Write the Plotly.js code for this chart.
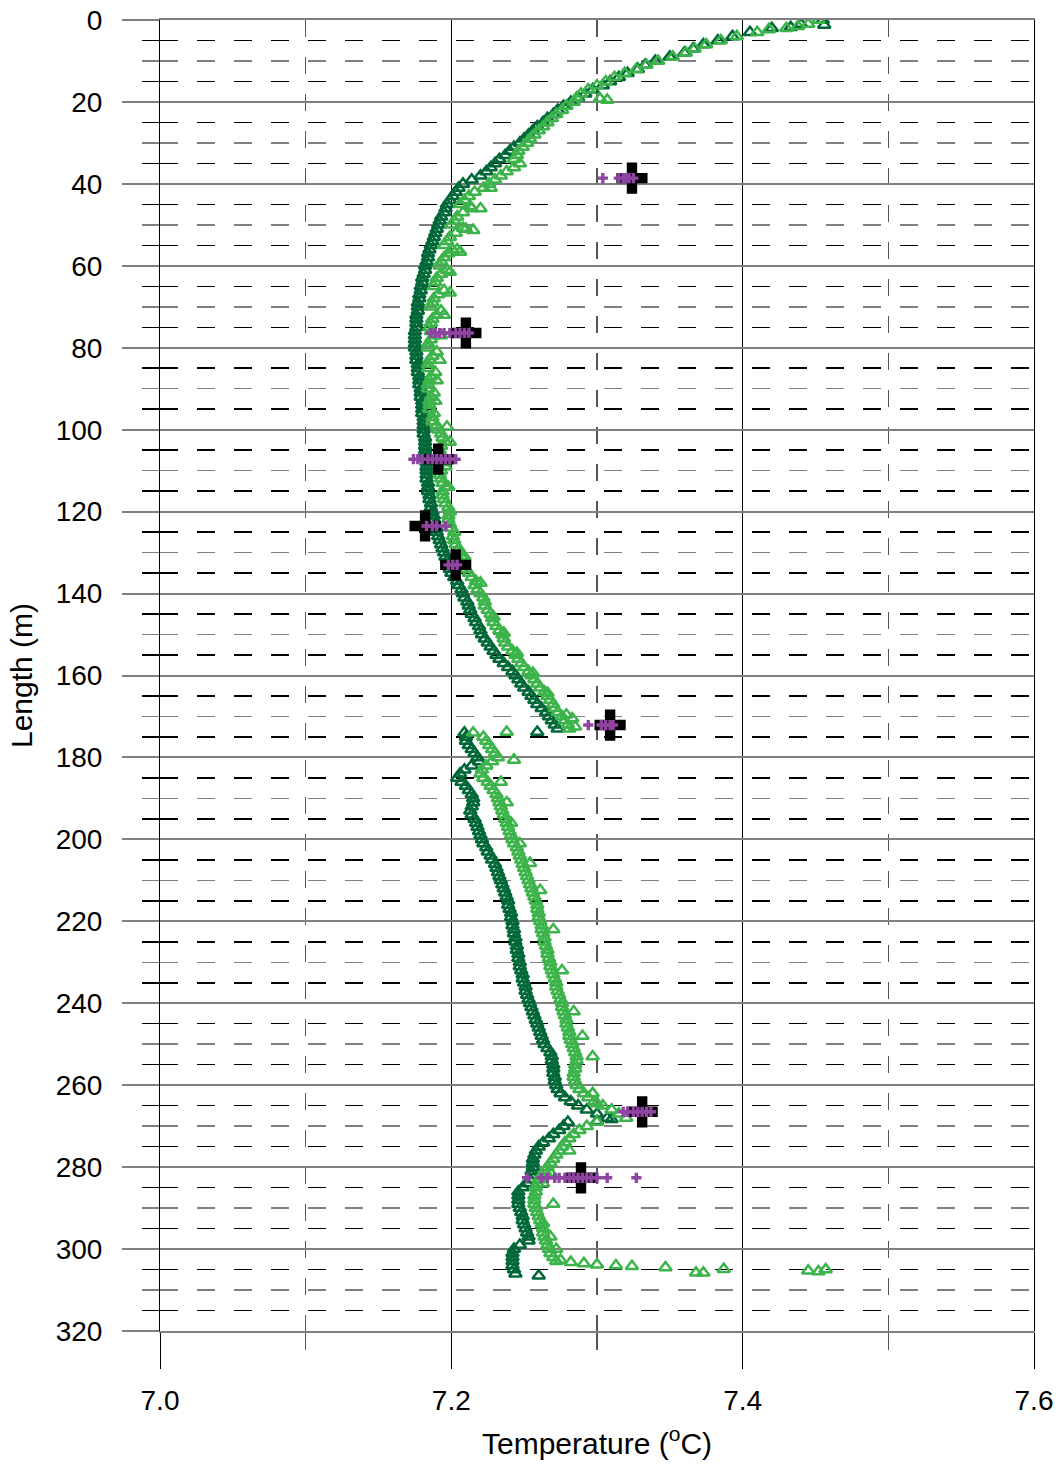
<!DOCTYPE html>
<html><head><meta charset="utf-8">
<script src="https://cdn.plot.ly/plotly-3.0.1.min.js"></script>
<style>html,body{margin:0;padding:0;background:#fff}#chart{width:1062px;height:1464px}</style>
</head><body><div id="chart"></div>
<script>
// ---- Dark green series (every metre of length) ----
const darkDepth = [
0,1,2,3,4,5,6,7,8,9,10,11,12,13,14,15,16,17,18,19,
20,21,22,23,24,25,26,27,28,29,30,31,32,33,34,35,36,37,38,39,
40,41,42,43,44,45,46,47,48,49,50,51,52,53,54,55,56,57,58,59,
60,61,62,63,64,65,66,67,68,69,70,71,72,73,74,75,76,77,78,79,
80,81,82,83,84,85,86,87,88,89,90,91,92,93,94,95,96,97,98,99,
100,101,102,103,104,105,106,107,108,109,110,111,112,113,114,115,116,117,118,119,
120,121,122,123,124,125,126,127,128,129,130,131,132,133,134,135,136,137,138,139,
140,141,142,143,144,145,146,147,148,149,150,151,152,153,154,155,156,157,158,159,
160,161,162,163,164,165,166,167,168,169,170,171,172,173,174,175,176,177,178,179,
180,181,182,183,184,185,186,187,188,189,190,191,192,193,194,195,196,197,198,199,
200,201,202,203,204,205,206,207,208,209,210,211,212,213,214,215,216,217,218,219,
220,221,222,223,224,225,226,227,228,229,230,231,232,233,234,235,236,237,238,239,
240,241,242,243,244,245,246,247,248,249,250,251,252,253,254,255,256,257,258,259,
260,261,262,263,264,265,266,267,268,269,270,271,272,273,274,275,276,277,278,279,
280,281,282,283,284,285,286,287,288,289,290,291,292,293,294,295,296,297,298,299,
300,301,302,303,304,305,306
];
const darkTemp = [
7.455,7.440,7.420,7.405,7.393,7.383,7.373,7.366,7.360,7.350,
7.340,7.333,7.328,7.321,7.315,7.309,7.304,7.297,7.292,7.287,
7.282,7.277,7.273,7.270,7.266,7.263,7.259,7.256,7.253,7.250,
7.247,7.243,7.240,7.237,7.233,7.230,7.227,7.224,7.220,7.214,
7.208,7.205,7.203,7.201,7.199,7.197,7.196,7.195,7.193,7.192,
7.191,7.190,7.189,7.188,7.187,7.186,7.185,7.184,7.184,7.183,
7.182,7.182,7.181,7.180,7.180,7.179,7.179,7.178,7.178,7.177,
7.177,7.177,7.176,7.176,7.176,7.176,7.175,7.175,7.175,7.175,
7.175,7.176,7.176,7.176,7.177,7.177,7.177,7.178,7.178,7.178,
7.179,7.179,7.179,7.180,7.180,7.180,7.180,7.181,7.181,7.181,
7.181,7.181,7.182,7.182,7.182,7.182,7.182,7.182,7.183,7.183,
7.183,7.183,7.183,7.184,7.184,7.184,7.185,7.185,7.186,7.186,
7.187,7.188,7.188,7.189,7.190,7.190,7.191,7.192,7.193,7.194,
7.195,7.196,7.197,7.198,7.199,7.200,7.202,7.204,7.205,7.207,
7.208,7.209,7.211,7.212,7.213,7.214,7.216,7.217,7.219,7.220,
7.221,7.223,7.225,7.227,7.229,7.231,7.233,7.236,7.239,7.242,
7.244,7.246,7.248,7.250,7.253,7.255,7.257,7.259,7.262,7.265,
7.267,7.269,7.271,7.273,7.209,7.210,7.210,7.212,7.214,7.216,
7.218,7.219,7.214,7.209,7.206,7.204,7.207,7.210,7.212,7.214,
7.215,7.215,7.214,7.213,7.214,7.216,7.217,7.218,7.219,7.220,
7.221,7.222,7.224,7.225,7.227,7.228,7.230,7.231,7.232,7.233,
7.234,7.235,7.236,7.237,7.238,7.239,7.239,7.240,7.241,7.241,
7.242,7.242,7.243,7.243,7.244,7.244,7.245,7.245,7.246,7.246,
7.247,7.247,7.248,7.249,7.249,7.250,7.251,7.251,7.252,7.253,
7.254,7.255,7.256,7.257,7.258,7.259,7.260,7.261,7.262,7.263,
7.264,7.266,7.268,7.269,7.269,7.270,7.270,7.270,7.271,7.271,
7.272,7.273,7.275,7.278,7.282,7.287,7.293,7.300,7.307,7.280,
7.277,7.274,7.270,7.267,7.263,7.260,7.258,7.257,7.256,7.256,
7.256,7.255,7.255,7.254,7.252,7.249,7.246,7.246,7.246,7.246,
7.247,7.248,7.249,7.249,7.250,7.251,7.252,7.253,7.253,7.247,
7.243,7.242,7.242,7.242,7.242,7.243,7.244
];
const darkExtraDepth = [306.5, 173.8, 268.8, 268.3, 1.2, 1.8];
const darkExtraTemp  = [7.260, 7.259, 7.300, 7.310, 7.456, 7.433];

// ---- Light green series (every metre of length) ----
const lightDepth = [
0,1,2,3,4,5,6,7,8,9,10,11,12,13,14,15,16,17,18,19,
20,21,22,23,24,25,26,27,28,29,30,31,32,33,34,35,36,37,38,39,
40,41,42,43,44,45,46,47,48,49,50,51,52,53,54,55,56,57,58,59,
60,61,62,63,64,65,66,67,68,69,70,71,72,73,74,75,76,77,78,79,
80,81,82,83,84,85,86,87,88,89,90,91,92,93,94,95,96,97,98,99,
100,101,102,103,104,105,106,107,108,109,110,111,112,113,114,115,116,117,118,119,
120,121,122,123,124,125,126,127,128,129,130,131,132,133,134,135,136,137,138,139,
140,141,142,143,144,145,146,147,148,149,150,151,152,153,154,155,156,157,158,159,
160,161,162,163,164,165,166,167,168,169,170,171,172,173,174,175,176,177,178,179,
180,181,182,183,184,185,186,187,188,189,190,191,192,193,194,195,196,197,198,199,
200,201,202,203,204,205,206,207,208,209,210,211,212,213,214,215,216,217,218,219,
220,221,222,223,224,225,226,227,228,229,230,231,232,233,234,235,236,237,238,239,
240,241,242,243,244,245,246,247,248,249,250,251,252,253,254,255,256,257,258,259,
260,261,262,263,264,265,266,267,268,269,270,271,272,273,274,275,276,277,278,279,
280,281,282,283,284,285,286,287,288,289,290,291,292,293,294,295,296,297,298,299,
300,301,302,303
];
const lightTemp = [
7.452,7.445,7.430,7.410,7.396,7.385,7.375,7.367,7.361,7.352,
7.342,7.334,7.327,7.319,7.312,7.306,7.300,7.294,7.289,7.286,
7.284,7.279,7.276,7.272,7.269,7.266,7.263,7.260,7.257,7.254,
7.252,7.249,7.246,7.245,7.243,7.247,7.243,7.238,7.234,7.230,
7.226,7.222,7.216,7.212,7.209,7.206,7.214,7.208,7.204,7.202,
7.200,7.210,7.203,7.199,7.197,7.195,7.204,7.198,7.195,7.193,
7.192,7.197,7.193,7.190,7.189,7.188,7.195,7.191,7.188,7.187,
7.186,7.193,7.190,7.187,7.186,7.185,7.186,7.188,7.186,7.184,
7.184,7.190,7.187,7.185,7.184,7.184,7.189,7.186,7.185,7.184,
7.184,7.188,7.186,7.185,7.185,7.185,7.188,7.187,7.187,7.190,
7.191,7.193,7.194,7.196,7.193,7.192,7.193,7.194,7.195,7.196,
7.193,7.192,7.193,7.194,7.196,7.194,7.194,7.195,7.196,7.198,
7.199,7.198,7.198,7.199,7.200,7.202,7.201,7.202,7.203,7.205,
7.206,7.207,7.206,7.208,7.210,7.212,7.214,7.217,7.216,7.218,
7.220,7.222,7.223,7.223,7.225,7.227,7.228,7.229,7.231,7.233,
7.235,7.236,7.237,7.239,7.242,7.244,7.246,7.248,7.250,7.253,
7.255,7.257,7.259,7.261,7.264,7.266,7.268,7.270,7.271,7.273,
7.276,7.278,7.280,7.281,7.215,7.222,7.224,7.226,7.228,7.230,
7.232,7.228,7.224,7.221,7.220,7.222,7.225,7.227,7.229,7.231,
7.232,7.233,7.234,7.235,7.236,7.237,7.238,7.239,7.240,7.241,
7.242,7.243,7.245,7.246,7.247,7.248,7.249,7.250,7.251,7.252,
7.253,7.254,7.255,7.256,7.257,7.258,7.259,7.259,7.260,7.260,
7.261,7.262,7.262,7.263,7.264,7.264,7.265,7.266,7.266,7.267,
7.268,7.268,7.269,7.270,7.271,7.272,7.272,7.273,7.274,7.275,
7.276,7.276,7.277,7.278,7.279,7.279,7.280,7.281,7.281,7.282,
7.283,7.284,7.285,7.286,7.286,7.285,7.285,7.284,7.284,7.285,
7.286,7.288,7.291,7.294,7.298,7.304,7.310,7.315,7.320,7.300,
7.293,7.288,7.284,7.281,7.278,7.276,7.274,7.272,7.270,7.268,
7.266,7.264,7.262,7.260,7.259,7.258,7.258,7.257,7.257,7.257,
7.258,7.259,7.260,7.261,7.262,7.263,7.263,7.264,7.265,7.266,
7.267,7.268,7.270,7.272
];
const lightExtraDepth = [
1.5,2.3,19.5,19.2,41,46,45.5,51.3,50.8,56.6,56.2,61.5,66.6,72,77,83,88,93,
99.3,103,114,131,137.4,145.7,149.6,154.5,159.4,164.3,169.6,170.5,172.5,173.8,
180.6,186,191,196,201,205.8,212.4,222,232,242,248,253,262,264.5,
276,281.4,284,289,293.7,297,300,302.7,303.2,303.5,303.8,304.0,304.2,304.5,
305.8,305.8,304.9,305.3,305.5,305.0
];
const lightExtraTemp = [
7.438,7.418,7.307,7.302,7.227,7.220,7.213,7.215,7.208,7.206,7.201,7.199,7.199,7.195,7.193,7.192,7.190,7.189,
7.197,7.199,7.198,7.209,7.220,7.229,7.236,7.245,7.256,7.266,7.279,7.283,7.285,7.238,
7.243,7.234,7.238,7.241,7.247,7.254,7.261,7.270,7.276,7.284,7.290,7.297,7.297,7.300,
7.281,7.268,7.263,7.270,7.263,7.268,7.272,7.275,7.282,7.291,7.300,7.313,7.324,7.347,
7.368,7.373,7.387,7.445,7.452,7.457
];

// ---- Purple point readings ----
const purpleDepth = [
38.6,38.6,38.6,38.6,38.6,38.6,
76.4,76.4,76.4,76.4,76.4,76.4,76.4,76.4,76.4,
107.2,107.2,107.2,107.2,107.2,107.2,107.2,107.2,107.2,107.2,
123.5,123.5,123.5,123.5,
133.0,133.0,133.0,
172.1,172.1,172.1,172.1,172.1,
266.5,266.5,266.5,266.5,266.5,266.5,266.5,
282.6,282.6,282.6,282.6,282.6,282.6,282.6,282.6,282.6,282.6,282.6,282.6,282.6,282.6,282.6
];
const purpleTemp = [
7.304,7.315,7.318,7.320,7.322,7.325,
7.186,7.189,7.192,7.195,7.199,7.203,7.206,7.209,7.212,
7.174,7.177,7.180,7.184,7.187,7.190,7.193,7.196,7.199,7.203,
7.183,7.187,7.190,7.196,
7.198,7.201,7.204,
7.294,7.303,7.306,7.309,7.311,
7.318,7.321,7.325,7.328,7.331,7.334,7.337,
7.252,7.262,7.266,7.271,7.274,7.278,7.281,7.284,7.287,7.290,7.293,7.296,7.300,7.307,7.327
];

// ---- Black mean markers ----
const crossDepth = [38.6, 76.4, 107.2, 123.5, 133.0, 172.1, 266.5, 282.6];
const crossTemp  = [7.324, 7.210, 7.191, 7.182, 7.203, 7.309, 7.331, 7.289];

// ---- Axis tick values ----
const grayMinorTicks  = [10,30,50,70,90,110,130,150,170,190,210,230,250,270,290,310];
const blackMinorTicks = [5,15,25,35,45,55,65,75,85,95,105,115,125,135,145,155,165,175,185,195,205,215,225,235,245,255,265,275,285,295,305,315];

const FAM = 'Liberation Sans, Arial, sans-serif';
const traces = [
  {type:'scatter', mode:'markers', x: darkTemp.concat(darkExtraTemp), y: darkDepth.concat(darkExtraDepth),
   marker:{symbol:'triangle-up-open', size:11, color:'#006838', line:{width:2.5, color:'#006838'}}, hoverinfo:'skip'},
  {type:'scatter', mode:'markers', x: lightTemp.concat(lightExtraTemp), y: lightDepth.concat(lightExtraDepth),
   marker:{symbol:'triangle-up-open', size:11, color:'#3cb44b', line:{width:2.5, color:'#3cb44b'}}, hoverinfo:'skip'},
  {type:'scatter', mode:'markers', x: crossTemp, y: crossDepth, yaxis:'y2',
   marker:{symbol:'cross', size:26, color:'#000000', line:{width:0}}, hoverinfo:'skip'},
  {type:'scatter', mode:'markers', x: purpleTemp, y: purpleDepth, yaxis:'y2',
   marker:{symbol:'cross', size:8.5, color:'#8e44a0', line:{width:0}}, hoverinfo:'skip'}
];

const layout = {
  width:1062, height:1464,
  margin:{l:160, r:28, t:20, b:133, pad:0},
  paper_bgcolor:'#ffffff', plot_bgcolor:'#ffffff',
  showlegend:false,
  font:{family:FAM, size:28, color:'#000'},
  xaxis:{
    range:[7.0, 7.6], tick0:7.0, dtick:0.2, tickformat:'.1f',
    ticks:'outside', ticklen:36, tickwidth:1, tickcolor:'#000',
    showgrid:true, gridcolor:'#000', gridwidth:1,
    showline:true, mirror:true, linecolor:'#808080', linewidth:2,
    zeroline:false, ticklabelstandoff:7,
    tickfont:{family:FAM, size:28, color:'#000'},
    title:{text:'Temperature (<sup>o</sup>C)', font:{family:FAM, size:30, color:'#000'}, standoff:18},
    minor:{dtick:0.1, tick0:7.0, ticks:'outside', ticklen:17, tickwidth:1.5, tickcolor:'#555',
           showgrid:true, gridcolor:'#555', gridwidth:1.5, griddash:'17px,20px'}
  },
  yaxis:{
    range:[320, 0], tick0:0, dtick:20,
    ticks:'outside', ticklen:37, tickwidth:2, tickcolor:'#808080',
    showgrid:true, gridcolor:'#808080', gridwidth:2,
    showline:true, mirror:true, linecolor:'#000', linewidth:1,
    zeroline:false, ticklabelstandoff:14,
    tickfont:{family:FAM, size:28, color:'#000'},
    title:{text:'Length (m)', font:{family:FAM, size:30, color:'#000'}, standoff:14},
    minor:{tickmode:'array', tickvals:grayMinorTicks, ticks:'outside', ticklen:17, tickwidth:1.5, tickcolor:'#808080',
           showgrid:true, gridcolor:'#808080', gridwidth:1.5, griddash:'18px,19px'}
  },
  yaxis2:{
    overlaying:'y', side:'left', range:[320, 0],
    tickmode:'array', tickvals:blackMinorTicks, ticks:'outside', ticklen:17, tickwidth:1.5, tickcolor:'#000',
    showticklabels:false, showgrid:true, gridcolor:'#000', gridwidth:1.5, griddash:'18px,19px',
    zeroline:false, showline:false
  }
};

Plotly.newPlot('chart', traces, layout, {staticPlot:true, displayModeBar:false});
</script>
</body></html>
